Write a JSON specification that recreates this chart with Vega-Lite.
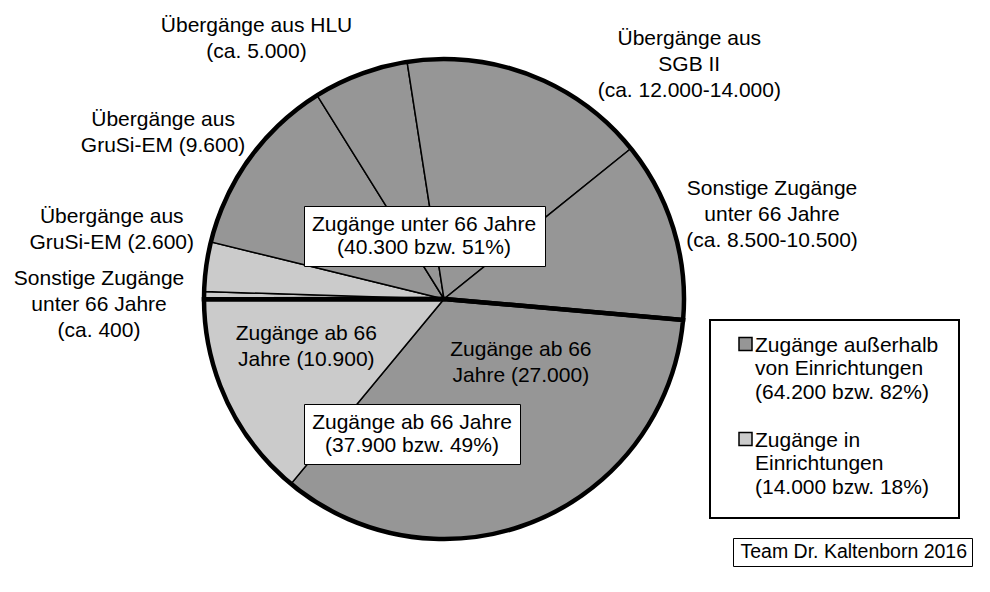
{
  "$schema": "https://vega.github.io/schema/vega-lite/v6.json",
  "width": 888,
  "height": 586,
  "autosize": {"type": "none"},
  "padding": {"left": 0, "top": 6, "right": 102, "bottom": 0},
  "background": "white",
  "config": {"view": {"stroke": null}, "font": "Liberation Sans"},
  "datasets": {
    "slices": [
      {"idx": 0, "gruppe": "ab66", "ort": "ausserhalb", "value": 27000, "label": "Zugänge ab 66\nJahre (27.000)"},
      {"idx": 1, "gruppe": "ab66", "ort": "in", "value": 10900, "label": "Zugänge ab 66\nJahre (10.900)"},
      {"idx": 2, "gruppe": "unter66", "ort": "in", "value": 400, "label": "Sonstige Zugänge\nunter 66 Jahre\n(ca. 400)"},
      {"idx": 3, "gruppe": "unter66", "ort": "in", "value": 2600, "label": "Übergänge aus\nGruSi-EM (2.600)"},
      {"idx": 4, "gruppe": "unter66", "ort": "ausserhalb", "value": 9600, "label": "Übergänge aus\nGruSi-EM (9.600)"},
      {"idx": 5, "gruppe": "unter66", "ort": "ausserhalb", "value": 5000, "label": "Übergänge aus HLU\n(ca. 5.000)"},
      {"idx": 6, "gruppe": "unter66", "ort": "ausserhalb", "value": 13000, "label": "Übergänge aus\nSGB II\n(ca. 12.000-14.000)"},
      {"idx": 7, "gruppe": "unter66", "ort": "ausserhalb", "value": 9500, "label": "Sonstige Zugänge\nunter 66 Jahre\n(ca. 8.500-10.500)"}
    ],
    "notes": [
      {"box_unter": "Zugänge unter 66 Jahre\n(40.300 bzw. 51%)", "box_ab": "Zugänge ab 66 Jahre\n(37.900 bzw. 49%)", "quelle": "Team Dr. Kaltenborn 2016"}
    ]
  },
  "resolve": {"scale": {"opacity": "independent"}, "legend": {"opacity": "independent"}},
  "layer": [
    {
      "data": {"name": "slices"},
      "mark": {"type": "arc", "outerRadius": 240, "stroke": "black", "strokeWidth": 1.5},
      "encoding": {
        "theta": {"field": "value", "type": "quantitative", "stack": true, "scale": {"range": [1.6581, 7.9413]}},
        "order": {"field": "idx", "type": "quantitative"},
        "fill": {
          "field": "ort", "type": "nominal",
          "scale": {"domain": ["ausserhalb", "in"], "range": ["#969696", "#cbcbcb"]},
          "legend": {
            "title": null, "orient": "none", "legendX": 710, "legendY": 314,
            "labelExpr": "datum.value == 'ausserhalb' ? ['Zugänge außerhalb', 'von Einrichtungen', '(64.200 bzw. 82%)'] : ['Zugänge in', 'Einrichtungen', '(14.000 bzw. 18%)']",
            "labelFont": "Liberation Sans", "labelFontSize": 21, "labelColor": "black", "labelLimit": 500,
            "symbolType": "square", "symbolSize": 169, "symbolStrokeColor": "black", "symbolStrokeWidth": 1.5,
            "symbolOffset": 5, "labelOffset": -1,
            "strokeColor": "black", "fillColor": "white", "padding": 20, "rowPadding": 26,
            "encode": {
              "labels": {"update": {"lineHeight": {"value": 23.5}, "dy": {"value": -5}}},
              "symbols": {"update": {"stroke": {"value": "black"}, "strokeWidth": {"value": 1.5}, "y": {"value": 4}}},
              "legend": {"update": {"strokeWidth": {"value": 2}}}
            }
          }
        }
      }
    },
    {
      "data": {"name": "slices"},
      "transform": [
        {"aggregate": [{"op": "sum", "field": "value", "as": "value"}, {"op": "min", "field": "idx", "as": "idx"}], "groupby": ["gruppe"]}
      ],
      "mark": {"type": "arc", "outerRadius": 240, "fill": "transparent", "stroke": "black", "strokeWidth": 4.5},
      "encoding": {
        "theta": {"field": "value", "type": "quantitative", "stack": true},
        "order": {"field": "idx", "type": "quantitative"}
      }
    },
    {
      "data": {"name": "slices"},
      "mark": {
        "type": "text",
        "radius": {"expr": "datum.idx <= 1 ? 150 : 300"},
        "dx": {"expr": "[19, -2, -45, -35, -38, -83, 137, 41][datum.idx]"},
        "dy": {"expr": "[-81, -23, -10, -35, 3, 14, 26, -17][datum.idx]"},
        "align": "center", "baseline": "alphabetic",
        "font": "Liberation Sans", "fontSize": 21, "lineHeight": 26, "lineBreak": "\n", "color": "black"
      },
      "encoding": {
        "theta": {"field": "value", "type": "quantitative", "stack": true},
        "order": {"field": "idx", "type": "quantitative"},
        "text": {"field": "label"}
      }
    },
    {
      "data": {"name": "notes"},
      "mark": {"type": "text", "text": ""},
      "encoding": {
        "opacity": {
          "field": "box_unter", "type": "nominal", "scale": {"range": [1, 1]},
          "legend": {
            "title": null, "orient": "none", "legendX": 304, "legendY": 200,
            "labelExpr": "split(datum.label, '\\n')",
            "labelFont": "Liberation Sans", "labelFontSize": 21, "labelColor": "black", "labelLimit": 500,
            "labelAlign": "center", "labelOffset": 91,
            "symbolSize": 0, "symbolOpacity": 0, "symbolStrokeWidth": 0,
            "strokeColor": "black", "fillColor": "white", "padding": 8,
            "encode": {
              "labels": {"update": {"lineHeight": {"value": 26}}},
              "legend": {"update": {"strokeWidth": {"value": 1.5}}}
            }
          }
        }
      }
    },
    {
      "data": {"name": "notes"},
      "mark": {"type": "text", "text": ""},
      "encoding": {
        "opacity": {
          "field": "box_ab", "type": "nominal", "scale": {"range": [1, 1]},
          "legend": {
            "title": null, "orient": "none", "legendX": 304, "legendY": 398,
            "labelExpr": "split(datum.label, '\\n')",
            "labelFont": "Liberation Sans", "labelFontSize": 21, "labelColor": "black", "labelLimit": 500,
            "labelAlign": "center", "labelOffset": 79,
            "symbolSize": 0, "symbolOpacity": 0, "symbolStrokeWidth": 0,
            "strokeColor": "black", "fillColor": "white", "padding": 8,
            "encode": {
              "labels": {"update": {"lineHeight": {"value": 26}}},
              "legend": {"update": {"strokeWidth": {"value": 1.5}}}
            }
          }
        }
      }
    },
    {
      "data": {"name": "notes"},
      "mark": {"type": "text", "text": ""},
      "encoding": {
        "opacity": {
          "field": "quelle", "type": "nominal", "scale": {"range": [1, 1]},
          "legend": {
            "title": null, "orient": "none", "legendX": 733, "legendY": 532,
            "labelFont": "Liberation Sans", "labelFontSize": 19.5, "labelColor": "black", "labelLimit": 500,
            "labelOffset": -16,
            "symbolSize": 0, "symbolOpacity": 0, "symbolStrokeWidth": 0,
            "strokeColor": "black", "fillColor": "white", "padding": 4,
            "encode": {
              "legend": {"update": {"strokeWidth": {"value": 1.5}}}
            }
          }
        }
      }
    }
  ]
}
